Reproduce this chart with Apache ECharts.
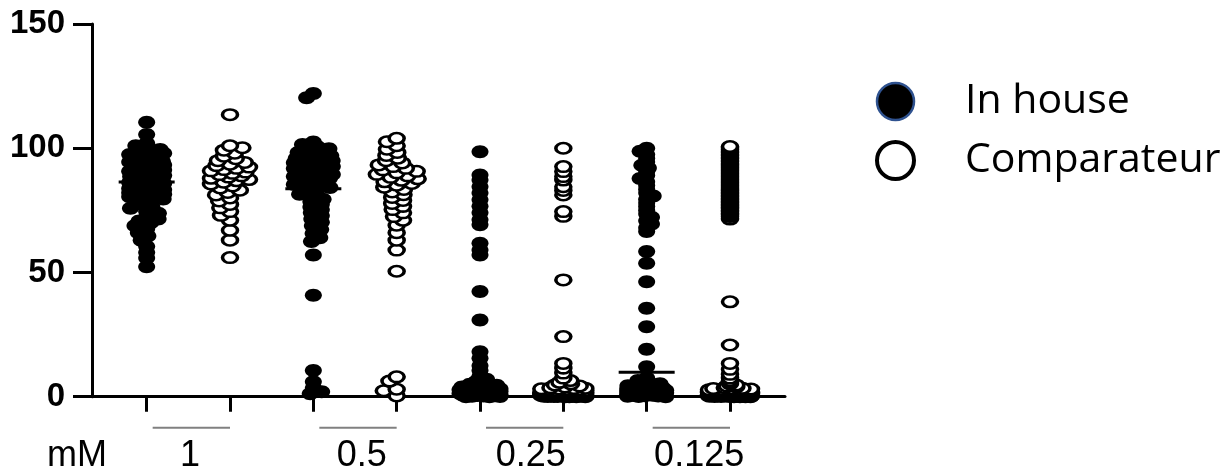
<!DOCTYPE html>
<html><head><meta charset="utf-8">
<script src="https://cdn.jsdelivr.net/npm/echarts@6/dist/echarts.min.js"></script>
<style>html,body{margin:0;padding:0;background:#fff}#c{width:1227px;height:470px}</style>
</head><body><div id="c"></div>
<script>
// ---------- data ----------
const seriesNames = ['In house', 'Comparateur'];
const groupLabels = ['1', '0.5', '0.25', '0.125'];
const unitLabel = 'mM';
const yTicks = [0, 50, 100, 150];

const inHouse1 = [110.5, 105.5, 102, 101, 100, 99.5, 99, 98.5, 98, 97.5, 97, 96.5,
  95.5, 95, 94.8, 94.5, 94.2, 93.7, 93.3, 92.8, 92.4, 92, 91.6, 91.2, 91, 90.7, 90.3, 89.9, 89.5, 89,
  88.6, 88.2, 88, 87.8, 87.4, 87, 86.6, 86.2, 86, 85.8, 85.4, 85, 84.6, 84.2, 84, 83.8, 83.3, 82.9,
  82.5, 82.1, 81.7, 81.5, 81.3, 80.9, 80.5, 80.2,
  79.6, 78.3, 77.6, 76.4, 75.8, 74.5, 73.8, 72.3, 71.5, 70.7, 70,
  68.8, 67.5, 66, 64.7, 63, 60.5, 58, 55.8, 52.3];
const comp1 = [113.5, 101, 100.2, 99.2, 98, 96.8, 95.8, 95, 94.3, 93.6, 93, 92.4, 91.9, 91.4, 90.9,
  90.4, 89.9, 89.4, 88.9, 88.4, 87.9, 87.4, 86.9, 86.3, 85.6, 84.8, 84, 83.1, 82.2, 81.2, 80, 78.8,
  77.4, 76, 74.5, 73, 71, 67, 63, 56];
const inHouse05 = [122, 120.3, 102.5, 101.5, 100.6, 99.8, 99, 98.3, 97.6, 97, 96.5, 96, 95.5, 95,
  94.6, 94.2, 93.8, 93.4, 93, 92.6, 92.2, 91.8, 91.4, 91, 90.6, 90.2, 89.8, 89.4, 89, 88.6, 88.2,
  87.8, 87.4, 87, 86.5, 86, 85.4, 84.8, 84.2, 83.3, 82.4, 81.5, 80.5, 79.5, 78.5, 77.4, 76.3, 75.2,
  74, 72.8, 71.5, 70.2, 68.8, 67.3, 65.7, 64, 62.5, 57, 40.8, 10.5, 6, 3.5, 2, 1.2];
const comp05 = [104, 102.6, 101, 99.6, 98.3, 97.1, 96, 95, 94.1, 93.3, 92.6, 91.9, 91.3, 90.7, 90.1,
  89.5, 88.9, 88.3, 87.7, 87.1, 86.5, 85.8, 85.1, 84.3, 83.4, 82.4, 81.3, 80.2, 79, 77.8, 76.6, 75.3,
  74, 72.5, 71, 69, 66, 63, 59, 50.5, 8, 6.3, 3, 2.4, 0.3];
const inHouse025 = [98.6, 89.2, 87.2, 84.5, 82, 79.3, 76.6, 74, 71.2, 69.2, 61.8, 59, 57, 42.3,
  30.9, 18.1, 15.5, 12.5, 10.5, 8.2, 7, 6.2, 5.5, 5, 4.6, 4.2, 3.9, 3.6, 3.4, 3.2, 3, 2.8, 2.7,
  2.5, 2.4, 2.2, 2.1, 2, 1.9, 1.8, 1.7, 1.6, 1.5, 1.4, 1.3, 1.2, 1.1, 1, 0.9, 0.8, 0.7, 0.6, 0.5,
  0.4, 0.3, 0.2, 0.1, 0, 0];
const comp025 = [100, 92.6, 90.6, 88.6, 87.2, 84.5, 83, 81.2, 74.5, 72.6, 47, 24.2, 13.4, 11.5, 9.5,
  7.5, 6.5, 5.8, 5.2, 4.7, 4.3, 3.9, 3.6, 3.3, 3.1, 3, 2.8, 2.7, 2.6, 2.5, 2.4, 2.3, 2.2, 2.1, 2,
  1.9, 1.8, 1.7, 1.6, 1.5, 1.5, 1.4, 1.3, 1.3, 1.2, 1.1, 1.1, 1, 0.9, 0.9, 0.8, 0.7, 0.7, 0.6, 0.5,
  0.5, 0.4, 0.3, 0.3, 0.2, 0.1, 0.1, 0, 0, 0,
  3.4, 3.2, 2.9, 2.6, 2.3, 2.1, 1.9, 1.7, 1.6, 1.4, 1.2, 1, 0.9, 0.8, 0.6, 0.5, 0.4, 0.3, 0.2, 0.1,
  2.5, 2, 1.5, 1, 0.5, 0, 1.8, 1.3, 0.8, 0.2];
const inHouse0125 = [100, 98.8, 97.5, 96, 94.5, 93.2, 92, 90.5, 89, 87.8, 86.5, 85, 83.5, 82, 80.8,
  79.5, 78, 76.5, 75, 73.5, 72.2, 70.8, 69.5, 68, 66.5, 58.4, 53.7, 46.3, 35.6, 28.2, 19.1, 12.1,
  7.5, 6.5, 5.8, 5.2, 4.8, 4.4, 4, 3.7, 3.4, 3.1, 3, 2.8, 2.6, 2.4, 2.2, 2, 2, 1.8, 1.6, 1.4, 1.2,
  1, 0.9, 0.8, 0.7, 0.6, 0.5, 0.4, 0.3, 0.2, 0.1, 0];
const comp0125 = [100.7, 100.1, 99.5, 98.9, 98.3, 97.7, 97.1, 96.5, 95.9, 95.3, 94.7, 94.1, 93.5,
  92.9, 92.3, 91.7, 91.1, 90.5, 89.9, 89.3, 88.7, 88.1, 87.5, 86.9, 86.3, 85.7, 85.1, 84.5, 83.9,
  83.3, 82.7, 82.1, 81.5, 80.9, 80.3, 79.7, 79.1, 78.5, 77.9, 77.3, 76.7, 76.1, 75.5, 74.9, 74.3,
  73.7, 73.1, 72.5, 71.5, 38.2, 20.8, 13.4, 11, 9,
  7.5, 6.5, 5.8, 5.2, 4.7, 4.3, 3.9, 3.6, 3.3, 3.1, 3, 2.8, 2.7, 2.6, 2.5, 2.4, 2.3, 2.2, 2.1, 2,
  1.9, 1.8, 1.7, 1.6, 1.5, 1.5, 1.4, 1.3, 1.3, 1.2, 1.1, 1.1, 1, 0.9, 0.9, 0.8, 0.7, 0.7, 0.6, 0.5,
  0.5, 0.4, 0.3, 0.3, 0.2, 0.1, 0.1, 0, 0, 0,
  3.4, 3.2, 2.9, 2.6, 2.3, 2.1, 1.9, 1.7, 1.6, 1.4, 1.2, 1, 0.9, 0.8, 0.6, 0.5, 0.4, 0.3, 0.2, 0.1,
  2.5, 2, 1.5, 1, 0.5, 0, 1.8, 1.3, 0.8, 0.2];
const inHouseMedians = [86.4, 83.7, 2.5, 9.8];

// ---------- layout ----------
const GRID = {left: 92, right: 442, top: 24, bottom: 73.3};
const X_MIN = 0.344, X_MAX = 8.66;
const plotW = 1227 - GRID.left - GRID.right;
const plotH = 470 - GRID.top - GRID.bottom;
const pxX = plotW / (X_MAX - X_MIN);
const pxY = plotH / (yTicks[yTicks.length - 1] - yTicks[0]);
// swarm packing settings per group (row height px, max half spread px)
const rowIn = [5, 5, 3.5, 3.5];
const halfIn = [17, 19, 20, 19];
const rowComp = [5, 5, 2.9, 1.4];
const halfComp = [19, 21, 22, 21];
const labelShift = [0.02, 0.08, 0.11, 0.13];

// beeswarm: offsets in px computed from values
function swarm(vals, sepX, sepY, maxHalf) {
  const order = vals.map((v, i) => i).sort((a, b) => vals[b] - vals[a]);
  const placed = [];
  const off = new Array(vals.length).fill(0);
  let side = 1;
  for (const i of order) {
    const y = vals[i] * pxY;
    const near = placed.filter(p => Math.abs(p.y - y) < sepY);
    const dist = x => {
      let m = Infinity;
      for (const p of near) {
        const dx = (x - p.x) / sepX, dy = (y - p.y) / sepY;
        const d = dx * dx + dy * dy;
        if (d < m) m = d;
      }
      return m;
    };
    const cands = [0];
    for (const p of near) {
      const w = sepX * Math.sqrt(Math.max(0, 1 - ((p.y - y) / sepY) ** 2));
      cands.push(p.x + w + 1e-6, p.x - w - 1e-6);
    }
    cands.sort((a, b) => (Math.abs(a) - Math.abs(b)) || side * (b - a));
    let best = null;
    for (const c of cands) {
      if (Math.abs(c) <= maxHalf && dist(c) >= 1 - 1e-6) { best = c; break; }
    }
    if (best === null) {
      let bd = -1;
      for (let x = -maxHalf; x <= maxHalf + 1e-9; x += 0.5) {
        const d = dist(x);
        if (d > bd + 1e-9 || (Math.abs(d - bd) < 1e-9 && Math.abs(x) < Math.abs(best))) { bd = d; best = x; }
      }
    }
    side = -side;
    placed.push({x: best, y});
    off[i] = best;
  }
  return off;
}

function buildPoints(groups, slot, sepX, rows, halves) {
  const out = [];
  groups.forEach((vals, g) => {
    const pos = 2 * g + 1 + slot;
    const off = swarm(vals, sepX, rows[g], halves[g]);
    vals.forEach((v, i) => out.push([pos + off[i] / pxX, v]));
  });
  return out;
}

const ellipse = 'path://M50,0 C77.6,0 100,22.4 100,50 C100,77.6 77.6,100 50,100 C22.4,100 0,77.6 0,50 C0,22.4 22.4,0 50,0 Z';
const inHousePts = buildPoints([inHouse1, inHouse05, inHouse025, inHouse0125], 0, 12.5, rowIn, halfIn);
// draw low values first so upper rings sit on top
const compPts = buildPoints([comp1, comp05, comp025, comp0125], 1, 13.5, rowComp, halfComp)
  .sort((a, b) => a[1] - b[1]);

const tickPos = [];
groupLabels.forEach((_, g) => { tickPos.push(2 * g + 1, 2 * g + 2); });
const labelPos = groupLabels.map((_, g) => 2 * g + 1.5 + labelShift[g]);
function labelFor(v) {
  return groupLabels[Math.round((v - 1.5) / 2)] || '';
}

const chart = echarts.init(document.getElementById('c'), null, {renderer: 'canvas'});
chart.setOption({
  animation: false,
  backgroundColor: '#fff',
  title: {
    text: unitLabel, left: 47, top: 438, padding: 0,
    textStyle: {fontSize: 36, fontWeight: 'normal', fontFamily: 'Liberation Sans', color: '#000'}
  },
  grid: {left: GRID.left, right: GRID.right, top: GRID.top, bottom: GRID.bottom, containLabel: false, outerBoundsMode: 'none'},
  legend: {
    orient: 'vertical', left: 875, top: 81, padding: 0,
    itemWidth: 37, itemHeight: 37, itemGap: 18, selectedMode: false,
    textStyle: {fontSize: 41, fontFamily: 'Open Sans', color: '#000', padding: [0, 0, 0, 46]},
    data: [
      {name: seriesNames[0], icon: 'circle', itemStyle: {color: '#000', borderColor: '#2F528F', borderWidth: 2.5}},
      {name: seriesNames[1], icon: 'circle', itemStyle: {color: '#fff', borderColor: '#000', borderWidth: 4}}
    ]
  },
  xAxis: {
    type: 'value', min: X_MIN, max: X_MAX,
    splitLine: {show: false},
    axisLine: {show: true, onZero: false, lineStyle: {color: '#000', width: 3}},
    axisTick: {show: true, customValues: tickPos, length: 15, lineStyle: {color: '#000', width: 3}},
    axisLabel: {show: true, customValues: labelPos, formatter: labelFor, margin: 41,
      color: '#000', fontSize: 36, fontFamily: 'Liberation Sans'}
  },
  yAxis: {
    type: 'value', min: yTicks[0], max: yTicks[yTicks.length - 1], interval: yTicks[1] - yTicks[0],
    splitLine: {show: false},
    axisLine: {show: true, lineStyle: {color: '#000', width: 3}},
    axisTick: {show: true, length: 19, lineStyle: {color: '#000', width: 3}},
    axisLabel: {margin: 27, color: '#000', fontSize: 33, fontWeight: 'bold', fontFamily: 'Liberation Sans'}
  },
  series: [
    {
      name: seriesNames[0], type: 'scatter', data: inHousePts, clip: false,
      symbol: ellipse, symbolSize: [17, 13], symbolKeepAspect: false,
      itemStyle: {color: '#000', opacity: 1}, z: 2, silent: true
    },
    {
      name: seriesNames[1], type: 'scatter', data: compPts, clip: false,
      symbol: ellipse, symbolSize: [15, 10.5], symbolKeepAspect: false,
      itemStyle: {color: '#fff', borderColor: '#000', borderWidth: 3, opacity: 1}, z: 2, silent: true
    },
    {
      name: 'median', type: 'custom', z: 4, silent: true, clip: false,
      data: inHouseMedians.map((m, g) => [2 * g + 1, m]),
      renderItem: (params, api) => {
        const c = api.coord([api.value(0), api.value(1)]);
        return {type: 'line', shape: {x1: c[0] - 28, y1: c[1], x2: c[0] + 28, y2: c[1]},
          style: {stroke: '#000', lineWidth: 3}};
      }
    },
    {
      name: 'pairs', type: 'custom', z: 1, silent: true, clip: false,
      data: groupLabels.map((_, g) => [2 * g + 1, 2 * g + 2]),
      renderItem: (params, api) => {
        const a = api.coord([api.value(0), 0]);
        const b = api.coord([api.value(1), 0]);
        return {type: 'line', shape: {x1: a[0] + 6, y1: a[1] + 31, x2: b[0], y2: a[1] + 31},
          style: {stroke: '#808080', lineWidth: 2}};
      }
    }
  ]
});
</script></body></html>
